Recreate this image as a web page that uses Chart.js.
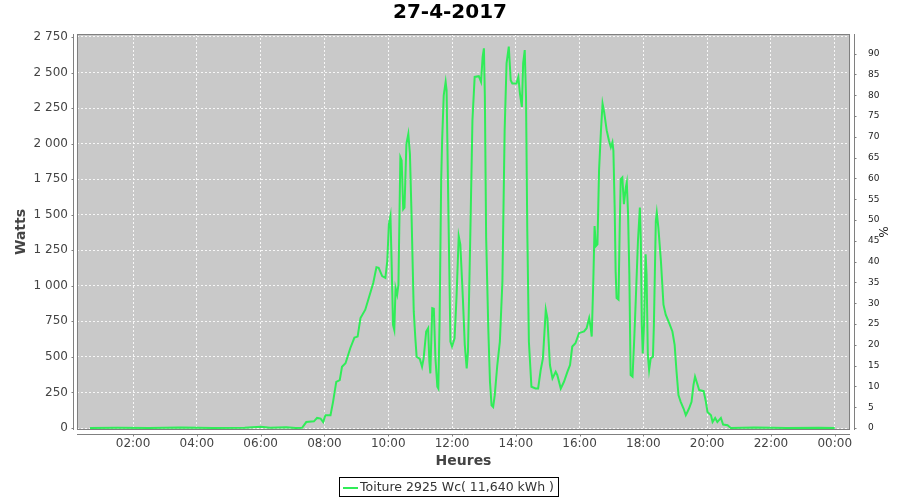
<!DOCTYPE html>
<html>
<head>
<meta charset="utf-8">
<script src="https://cdn.jsdelivr.net/npm/chart.js@4.4.0/dist/chart.umd.min.js"></script>
<style>
  html, body { margin: 0; padding: 0; background: #fff; }
</style>
</head>
<body>
<canvas id="chart" width="900" height="500"></canvas>
<script>
// Production of the roof installation
const chartTitle = '27-4-2017';
const seriesLabel = 'Toiture 2925 Wc( 11,640 kWh )';
const peakPower = 2925; // Wc, right axis is % of this

// time of day in decimal hours
const heures = [
    0.65, 1.5, 2.5, 3.5, 4.5, 5.5, 6.0, 6.3, 6.8, 7.1,
    7.30, 7.43, 7.67, 7.77, 7.88, 7.96, 8.03, 8.19, 8.27, 8.37,
    8.48, 8.55, 8.66, 8.81, 8.94, 9.04, 9.13, 9.28, 9.39, 9.53,
    9.63, 9.70, 9.81, 9.91, 9.97, 10.02, 10.07, 10.11, 10.15, 10.19,
    10.23, 10.28, 10.32, 10.38, 10.42, 10.47, 10.51, 10.57, 10.63, 10.68,
    10.73, 10.80, 10.85, 10.89, 10.99, 11.06, 11.11, 11.19, 11.25, 11.29,
    11.32, 11.38, 11.43, 11.48, 11.54, 11.57, 11.61, 11.66, 11.69, 11.74,
    11.80, 11.83, 11.88, 11.95, 12.00, 12.08, 12.14, 12.21, 12.26, 12.34,
    12.40, 12.46, 12.50, 12.58, 12.64, 12.71, 12.84, 12.91, 12.96, 13.00,
    13.03, 13.07, 13.14, 13.19, 13.24, 13.29, 13.34, 13.42, 13.50, 13.58,
    13.65, 13.71, 13.78, 13.84, 13.89, 14.02, 14.08, 14.13, 14.19, 14.23,
    14.28, 14.32, 14.36, 14.41, 14.49, 14.62, 14.70, 14.78, 14.85, 14.94,
    14.99, 15.07, 15.15, 15.25, 15.30, 15.41, 15.51, 15.62, 15.70, 15.77,
    15.87, 15.98, 16.14, 16.22, 16.30, 16.35, 16.38, 16.43, 16.47, 16.51,
    16.56, 16.61, 16.67, 16.72, 16.77, 16.85, 16.92, 16.98, 17.03, 17.06,
    17.10, 17.13, 17.16, 17.22, 17.26, 17.29, 17.34, 17.39, 17.45, 17.48,
    17.52, 17.56, 17.60, 17.66, 17.71, 17.76, 17.83, 17.89, 17.92, 17.95,
    17.98, 18.02, 18.07, 18.10, 18.14, 18.18, 18.23, 18.30, 18.33, 18.39,
    18.42, 18.47, 18.55, 18.63, 18.70, 18.81, 18.91, 18.98, 19.04, 19.10,
    19.17, 19.26, 19.33, 19.38, 19.43, 19.51, 19.57, 19.62, 19.67, 19.75,
    19.89, 19.96, 20.01, 20.12, 20.17, 20.25, 20.32, 20.43, 20.50, 20.64,
    20.74, 21.5, 22.5, 23.5, 24.0
];

const watts = [
    0, 2, 0, 3, 0, 2, 8, 2, 6, 0,
    2, 42, 47, 71, 66, 42, 90, 90, 184, 325,
    337, 431, 455, 561, 636, 643, 773, 832, 914, 1020,
    1131, 1126, 1068, 1056, 1174, 1433, 1492, 1126, 726, 690,
    985, 938, 1009, 1904, 1881, 1539, 1550, 1999, 2069, 1928,
    1504, 820, 631, 502, 486, 431, 490, 679, 702, 467,
    384, 843, 839, 490, 290, 278, 749, 1739, 2022, 2340,
    2434, 2375, 1621, 608, 573, 631, 914, 1350, 1292, 914,
    585, 419, 537, 1433, 2163, 2469, 2474, 2434, 2611, 2670,
    2328, 1338, 679, 325, 160, 148, 231, 443, 608, 1032,
    2093, 2564, 2682, 2446, 2423, 2423, 2469, 2352, 2258, 2564,
    2658, 2328, 1386, 608, 290, 278, 278, 408, 490, 832,
    773, 443, 349, 396, 373, 278, 325, 396, 443, 573,
    596, 667, 679, 702, 773, 702, 643, 1032, 1421, 1280,
    1292, 1810, 2093, 2281, 2222, 2093, 2022, 1975, 2010, 1951,
    1550, 1103, 914, 903, 1433, 1751, 1763, 1574, 1692, 1727,
    1504, 1080, 373, 361, 608, 891, 1315, 1550, 1315, 726,
    525, 726, 1221, 1080, 514, 408, 490, 502, 726, 1456,
    1515, 1409, 1174, 867, 797, 738, 679, 585, 396, 231,
    184, 137, 90, 113, 137, 184, 302, 361, 325, 267,
    259, 184, 113, 90, 42, 71, 42, 71, 24, 19,
    0, 3, 0, 2, 0
];

const hourTicks = [2, 4, 6, 8, 10, 12, 14, 16, 18, 20, 22, 24];
const wattTicks = [0, 250, 500, 750, 1000, 1250, 1500, 1750, 2000, 2250, 2500, 2750];
const percentTicks = [0, 5, 10, 15, 20, 25, 30, 35, 40, 45, 50, 55, 60, 65, 70, 75, 80, 85, 90];

const fontFamily = "'DejaVu Sans', Verdana, sans-serif";
const lineColor = '#30ec58';

// y range a little wider than the ticks so the plot has a small inner margin
const wattMin = -14;
const wattMax = 2771;

function formatWatts(v) {
    return String(v).replace(/\B(?=(\d{3})+(?!\d))/g, ' ');
}

function formatHour(v) {
    const h = v % 24;
    return (h < 10 ? '0' : '') + h + ':00';
}

const points = heures.map((h, i) => ({ x: h, y: watts[i] }));

// gray plot background, outline, offset axis lines and the boxed legend
const plotFrame = {
    id: 'plotFrame',
    beforeDraw(chart) {
        const { ctx, chartArea: a } = chart;
        ctx.save();
        ctx.fillStyle = '#c9c9c9';
        ctx.fillRect(a.left, a.top, a.right - a.left, a.bottom - a.top);
        ctx.restore();
    },
    afterDatasetsDraw(chart) {
        const { ctx, chartArea: a, scales } = chart;
        const left = Math.round(a.left), right = Math.round(a.right);
        const top = Math.round(a.top), bottom = Math.round(a.bottom);
        ctx.save();
        ctx.lineWidth = 1;
        ctx.strokeStyle = '#808080';
        ctx.strokeRect(left + 0.5, top + 0.5, right - left - 1, bottom - top - 1);

        ctx.beginPath();
        // left axis
        const lx = left - 4 + 0.5;
        ctx.moveTo(lx, top); ctx.lineTo(lx, bottom);
        scales.y.ticks.forEach(t => {
            const py = Math.round(scales.y.getPixelForValue(t.value)) + 0.5;
            ctx.moveTo(lx - 2, py); ctx.lineTo(lx, py);
        });
        // bottom axis
        const by = bottom + 4 + 0.5;
        ctx.moveTo(left, by); ctx.lineTo(right, by);
        scales.x.ticks.forEach(t => {
            const px = Math.round(scales.x.getPixelForValue(t.value)) + 0.5;
            ctx.moveTo(px, by); ctx.lineTo(px, by + 2);
        });
        // right axis
        const rx = right + 4 + 0.5;
        ctx.moveTo(rx, top); ctx.lineTo(rx, bottom);
        scales.pct.ticks.forEach(t => {
            const py = Math.round(scales.pct.getPixelForValue(t.value)) + 0.5;
            ctx.moveTo(rx, py); ctx.lineTo(rx + 2, py);
        });
        ctx.stroke();
        ctx.restore();
    },
    afterDraw(chart) {
        const ctx = chart.ctx;
        const label = chart.data.datasets[0].label;
        ctx.save();
        ctx.font = '12.5px ' + fontFamily;
        const textW = ctx.measureText(label).width;
        const boxW = Math.round(textW + 26);
        const boxX = Math.round(449 - boxW / 2);
        const boxY = 477;
        ctx.fillStyle = '#fff';
        ctx.fillRect(boxX, boxY, boxW, 20);
        ctx.strokeStyle = '#000';
        ctx.lineWidth = 1;
        ctx.strokeRect(boxX + 0.5, boxY + 0.5, boxW - 1, 19);
        ctx.strokeStyle = lineColor;
        ctx.lineWidth = 2;
        ctx.beginPath();
        ctx.moveTo(boxX + 4, boxY + 11); ctx.lineTo(boxX + 19, boxY + 11);
        ctx.stroke();
        ctx.fillStyle = '#333';
        ctx.textBaseline = 'middle';
        ctx.fillText(label, boxX + 21, boxY + 10.5);
        ctx.restore();
    }
};

// in Chart.js v4 the dash of the grid lines sits under border.dash
const dashedGrid = {
    color: 'rgba(255,255,255,0.85)',
    lineWidth: 1,
    drawTicks: false
};
const dashedBorder = { display: false, dash: [2, 2] };

// note: Chart.js counts ticks.padding twice when sizing an axis,
// so the title paddings below are tuned (some negative) to place the plot
new Chart(document.getElementById('chart'), {
    type: 'line',
    data: {
        datasets: [{
            label: seriesLabel,
            data: points,
            borderColor: lineColor,
            backgroundColor: lineColor,
            borderWidth: 2,
            pointRadius: 0,
            tension: 0,
            yAxisID: 'y'
        }]
    },
    options: {
        responsive: false,
        animation: false,
        layout: { padding: { left: 0, right: 0, top: 0, bottom: 30 } },
        plugins: {
            legend: { display: false },
            tooltip: { enabled: false },
            title: {
                display: true,
                text: chartTitle,
                color: '#000',
                font: { family: fontFamily, size: 20, weight: 'bold' },
                padding: { top: 1, bottom: 9 }
            }
        },
        scales: {
            x: {
                type: 'linear',
                min: 0.24,
                max: 24.48,
                afterBuildTicks: scale => { scale.ticks = hourTicks.map(v => ({ value: v })); },
                grid: dashedGrid,
                border: dashedBorder,
                ticks: {
                    padding: 7,
                    maxRotation: 0,
                    autoSkip: false,
                    color: '#444',
                    font: { family: fontFamily, size: 12 },
                    callback: v => formatHour(v)
                },
                title: {
                    display: true,
                    text: 'Heures',
                    color: '#444',
                    font: { family: fontFamily, size: 14, weight: 'bold' },
                    padding: { top: -5.2, bottom: 0 }
                }
            },
            y: {
                position: 'left',
                min: wattMin,
                max: wattMax,
                afterBuildTicks: scale => { scale.ticks = wattTicks.map(v => ({ value: v })); },
                grid: dashedGrid,
                border: dashedBorder,
                ticks: {
                    padding: 9,
                    color: '#444',
                    font: { family: fontFamily, size: 12 },
                    callback: v => formatWatts(v)
                },
                title: {
                    display: true,
                    text: 'Watts',
                    color: '#444',
                    font: { family: fontFamily, size: 14, weight: 'bold' },
                    padding: { top: 12.6, bottom: -4.8 }
                }
            },
            pct: {
                position: 'right',
                min: wattMin / peakPower * 100,
                max: wattMax / peakPower * 100,
                afterBuildTicks: scale => { scale.ticks = percentTicks.map(v => ({ value: v })); },
                grid: { display: false },
                border: { display: false },
                ticks: {
                    padding: 10,
                    color: '#222',
                    font: { family: fontFamily, size: 9 }
                },
                title: {
                    display: true,
                    text: '%',
                    color: '#222',
                    font: { family: fontFamily, size: 12 },
                    padding: { top: 10.6, bottom: -14.5 }
                }
            }
        }
    },
    plugins: [plotFrame]
});
</script>
</body>
</html>
